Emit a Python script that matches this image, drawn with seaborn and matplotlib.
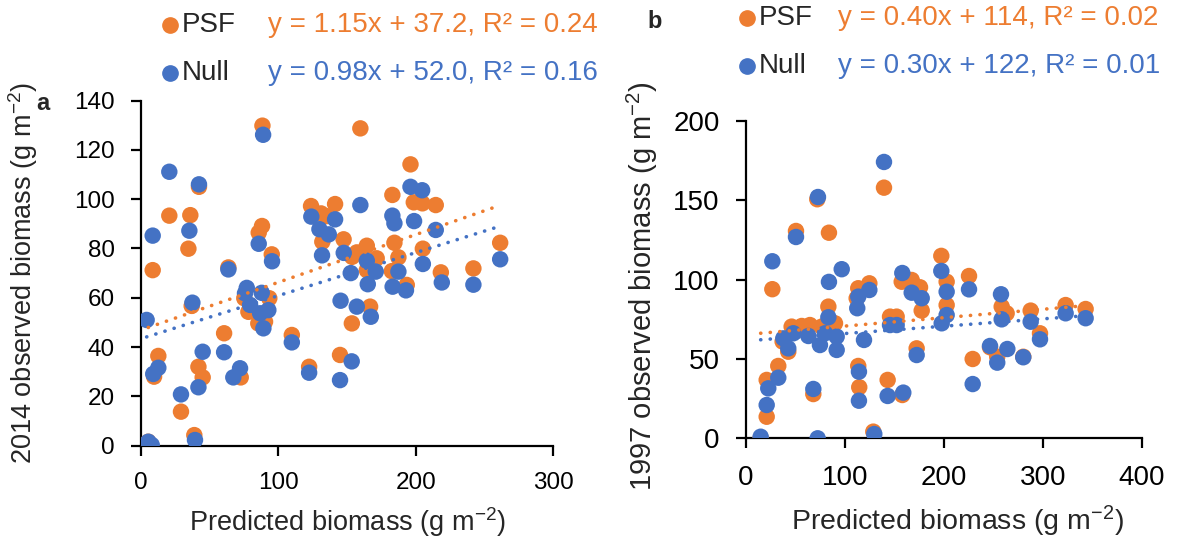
import numpy as np
import pandas as pd
import matplotlib
matplotlib.use("Agg")
import matplotlib.pyplot as plt
import seaborn as sns

# ---- data ----
# panel a (2014)
psf_x_a = [88.4, 20.6, 35.9, 34.5, 8.5, 88.1, 85.7, 95.2, 63.6, 123.8, 131.1, 141.3, 132.0, 147.5,
           134.7, 42.2, 159.7, 196.2, 183.0, 198.6, 204.9, 214.6, 157.1, 164.4, 153.7, 171.6, 184.5,
           187.4, 205.2, 164.4, 182.6, 193.5, 218.3, 242.0, 261.5, 36.9, 75.2, 78.2, 85.4, 90.3, 93.4,
           60.5, 109.8, 12.6, 9.5, 41.8, 44.9, 72.6, 122.4, 144.9, 29.1, 38.8, 5.3, 153.5, 166.8]
psf_y_a = [129.8, 93.3, 93.5, 79.9, 71.2, 89.1, 86.4, 77.6, 72.3, 97.2, 94.2, 98.0, 82.7, 83.7,
           93.1, 105.0, 128.7, 114.1, 101.7, 98.7, 98.3, 97.6, 78.4, 81.1, 76.6, 76.0, 82.3,
           76.4, 79.9, 71.2, 70.8, 65.2, 70.3, 71.9, 82.3, 56.7, 59.8, 54.3, 49.6, 50.3, 59.8,
           45.6, 44.9, 36.4, 28.0, 32.0, 27.7, 27.7, 32.0, 36.8, 13.8, 4.3, 1.6, 49.6, 56.4]
null_x_a = [88.9, 20.6, 42.2, 8.5, 35.2, 85.7, 95.4, 63.6, 124.0, 129.9, 136.7, 141.3, 131.8, 147.6,
            152.7, 159.7, 196.2, 204.7, 183.0, 184.5, 198.8, 214.6, 164.4, 170.9, 187.4, 205.2,
            219.0, 242.0, 261.5, 165.1, 183.2, 192.9, 4.1, 37.4, 77.0, 75.7, 87.9, 79.4, 86.7,
            92.7, 89.1, 44.9, 60.5, 109.8, 12.6, 8.9, 41.8, 29.1, 72.1, 67.2, 122.4, 144.9,
            145.3, 153.4, 39.3, 5.3, 7.8, 157.1, 167.3]
null_y_a = [126.1, 111.1, 106.0, 85.2, 87.2, 81.9, 74.8, 71.5, 92.9, 87.8, 85.7, 91.8, 77.2, 78.2,
            70.0, 97.6, 105.0, 103.6, 93.3, 90.2, 91.1, 87.5, 75.0, 70.6, 70.6, 73.7,
            66.2, 65.3, 75.6, 65.5, 64.5, 63.0, 51.0, 58.0, 64.0, 61.8, 62.0, 57.1, 53.7,
            55.0, 47.6, 38.1, 37.9, 41.9, 31.6, 29.1, 23.7, 20.8, 31.4, 27.7, 29.6, 26.6,
            58.8, 34.2, 2.3, 1.6, 0.3, 56.4, 52.3]

# panel b (1997)
psf_x_b = [139.4, 72.0, 50.5, 83.8, 26.6, 197.3, 202.7, 113.4, 124.6, 157.3, 167.4, 175.8, 225.3,
           83.2, 46.1, 56.3, 64.6, 76.4, 89.9, 42.7, 32.6, 20.9, 20.9, 68.0, 113.4, 114.4, 143.1,
           157.9, 128.6, 145.5, 152.2, 172.4, 177.5, 202.7, 111.8, 14.8, 258.3, 263.3, 287.6,
           322.9, 343.1, 297.0, 229.0, 253.8, 246.5, 280.1, 37.0]
psf_y_b = [158.0, 150.7, 130.7, 129.6, 94.0, 115.0, 98.7, 94.6, 97.7, 98.7, 99.8, 95.2, 102.3,
           83.0, 70.4, 70.8, 71.4, 70.4, 72.5, 54.6, 45.6, 36.8, 13.6, 27.9, 45.6, 32.2, 36.8,
           27.3, 4.2, 76.7, 76.7, 56.7, 80.5, 84.0, 88.3, 0.0, 83.0, 78.8, 80.5,
           84.0, 81.5, 66.2, 50.0, 51.4, 57.4, 51.4, 61.0]
null_x_b = [139.4, 72.7, 50.5, 26.6, 96.7, 83.8, 157.9, 197.3, 202.7, 124.6, 113.4, 167.4, 177.5,
            225.3, 257.6, 83.2, 37.7, 42.7, 47.8, 63.0, 74.7, 79.8, 91.6, 91.6, 119.2, 112.4,
            32.6, 22.5, 20.9, 68.0, 114.1, 114.1, 143.1, 158.9, 129.6, 72.4, 14.8, 145.5, 152.2,
            172.4, 197.7, 202.7, 258.3, 287.6, 322.9, 343.1, 297.0, 246.5, 264.0, 280.1, 253.8, 229.0]
null_y_b = [174.2, 152.1, 126.9, 111.6, 106.6, 98.6, 104.2, 105.5, 92.4, 93.5, 89.3, 91.8, 88.3,
            93.9, 90.8, 76.3, 63.0, 56.7, 66.2, 64.5, 58.8, 66.2, 64.1, 55.7, 62.0, 82.0,
            38.2, 31.5, 21.0, 31.1, 42.0, 23.7, 26.7, 28.8, 2.7, 0.0, 1.0, 71.4, 71.4,
            52.5, 72.5, 77.7, 75.0, 73.5, 78.8, 75.7, 62.4, 58.2, 56.3, 51.1, 47.7, 34.2]

eq_a = ["y = 1.15x + 37.2, R² = 0.24", "y = 0.98x + 52.0, R² = 0.16"]
eq_b = ["y = 0.40x + 114, R² = 0.02", "y = 0.30x + 122, R² = 0.01"]
series = ["PSF", "Null"]
colors = {"PSF": "#ED7D31", "Null": "#4472C4"}

sns.set_style("ticks")
plt.rcParams["font.family"] = ["Liberation Sans", "DejaVu Sans"]
plt.rcParams["mathtext.default"] = "regular"

fig = plt.figure(figsize=(11.83, 5.43), dpi=100)
ax_a = fig.add_axes([0.1192, 0.1792, 0.3483, 0.6357])
ax_b = fig.add_axes([0.6306, 0.1928, 0.3347, 0.5843])


def panel(ax, px, py, nx, ny, tick_size):
    df = pd.DataFrame({
        "x": px + nx, "y": py + ny,
        "model": ["PSF"] * len(px) + ["Null"] * len(nx),
    })
    sns.scatterplot(data=df, x="x", y="y", hue="model", palette=colors, s=140,
                    edgecolor="none", linewidth=0, alpha=1, ax=ax, legend=False, zorder=3)
    for name, xs, ys in [("PSF", px, py), ("Null", nx, ny)]:
        sns.regplot(x=np.array(xs), y=np.array(ys), ax=ax, ci=None, scatter=False,
                    line_kws=dict(color=colors[name], linewidth=2.6,
                                  linestyle=(0, (0.05, 2.6)), dash_capstyle="round",
                                  zorder=4))
    for sp in ["top", "right"]:
        ax.spines[sp].set_visible(False)
    for sp in ["left", "bottom"]:
        ax.spines[sp].set_linewidth(1.6)
        ax.spines[sp].set_color("black")
    ax.tick_params(direction="out", length=7, width=1.6, pad=12, labelsize=tick_size,
                   colors="black")


panel(ax_a, psf_x_a, psf_y_a, null_x_a, null_y_a, 17.5)
ax_a.set_xlim(0, 300)
ax_a.set_ylim(0, 140)
ax_a.set_xticks([0, 100, 200, 300])
ax_a.set_yticks(range(0, 141, 20))
ax_a.set_xlabel("Predicted biomass (g m$^{-2}$)", fontsize=19.5)
ax_a.set_ylabel("2014 observed biomass (g m$^{-2}$)", fontsize=19.5)
ax_a.yaxis.set_label_coords(-0.245, 0.5)
ax_a.xaxis.set_label_coords(0.5, -0.172)

panel(ax_b, psf_x_b, psf_y_b, null_x_b, null_y_b, 20)
ax_b.set_xlim(0, 400)
ax_b.set_ylim(0, 200)
ax_b.set_xticks([0, 100, 200, 300, 400])
ax_b.set_yticks([0, 50, 100, 150, 200])
ax_b.set_xlabel("Predicted biomass (g m$^{-2}$)", fontsize=20.5)
ax_b.set_ylabel("1997 observed biomass (g m$^{-2}$)", fontsize=21)
ax_b.yaxis.set_label_coords(-0.217, 0.48)
ax_b.xaxis.set_label_coords(0.535, -0.205)

# legends with equations
W, H = 1183, 543
for (dx, ty, eqs, tx) in [(170, [25, 73], eq_a, 268), (747, [18, 66], eq_b, 838)]:
    for name, yy, eq in zip(series, ty, eqs):
        fig.add_artist(plt.Line2D([dx / W], [1 - yy / H], marker="o", markersize=11,
                                  color=colors[name], linestyle="none"))
        fig.text((dx + 12) / W, 1 - yy / H, name, fontsize=20, va="center", ha="left")
        fig.text(tx / W, 1 - yy / H, eq, fontsize=20, va="center", ha="left",
                 color=colors[name])

fig.text(43 / W, 1 - 103 / H, "a", fontsize=17, fontweight="bold", va="center", ha="center")
fig.text(655 / W, 1 - 22 / H, "b", fontsize=17, fontweight="bold", va="center", ha="center")

fig.savefig("out.png", dpi=100)
